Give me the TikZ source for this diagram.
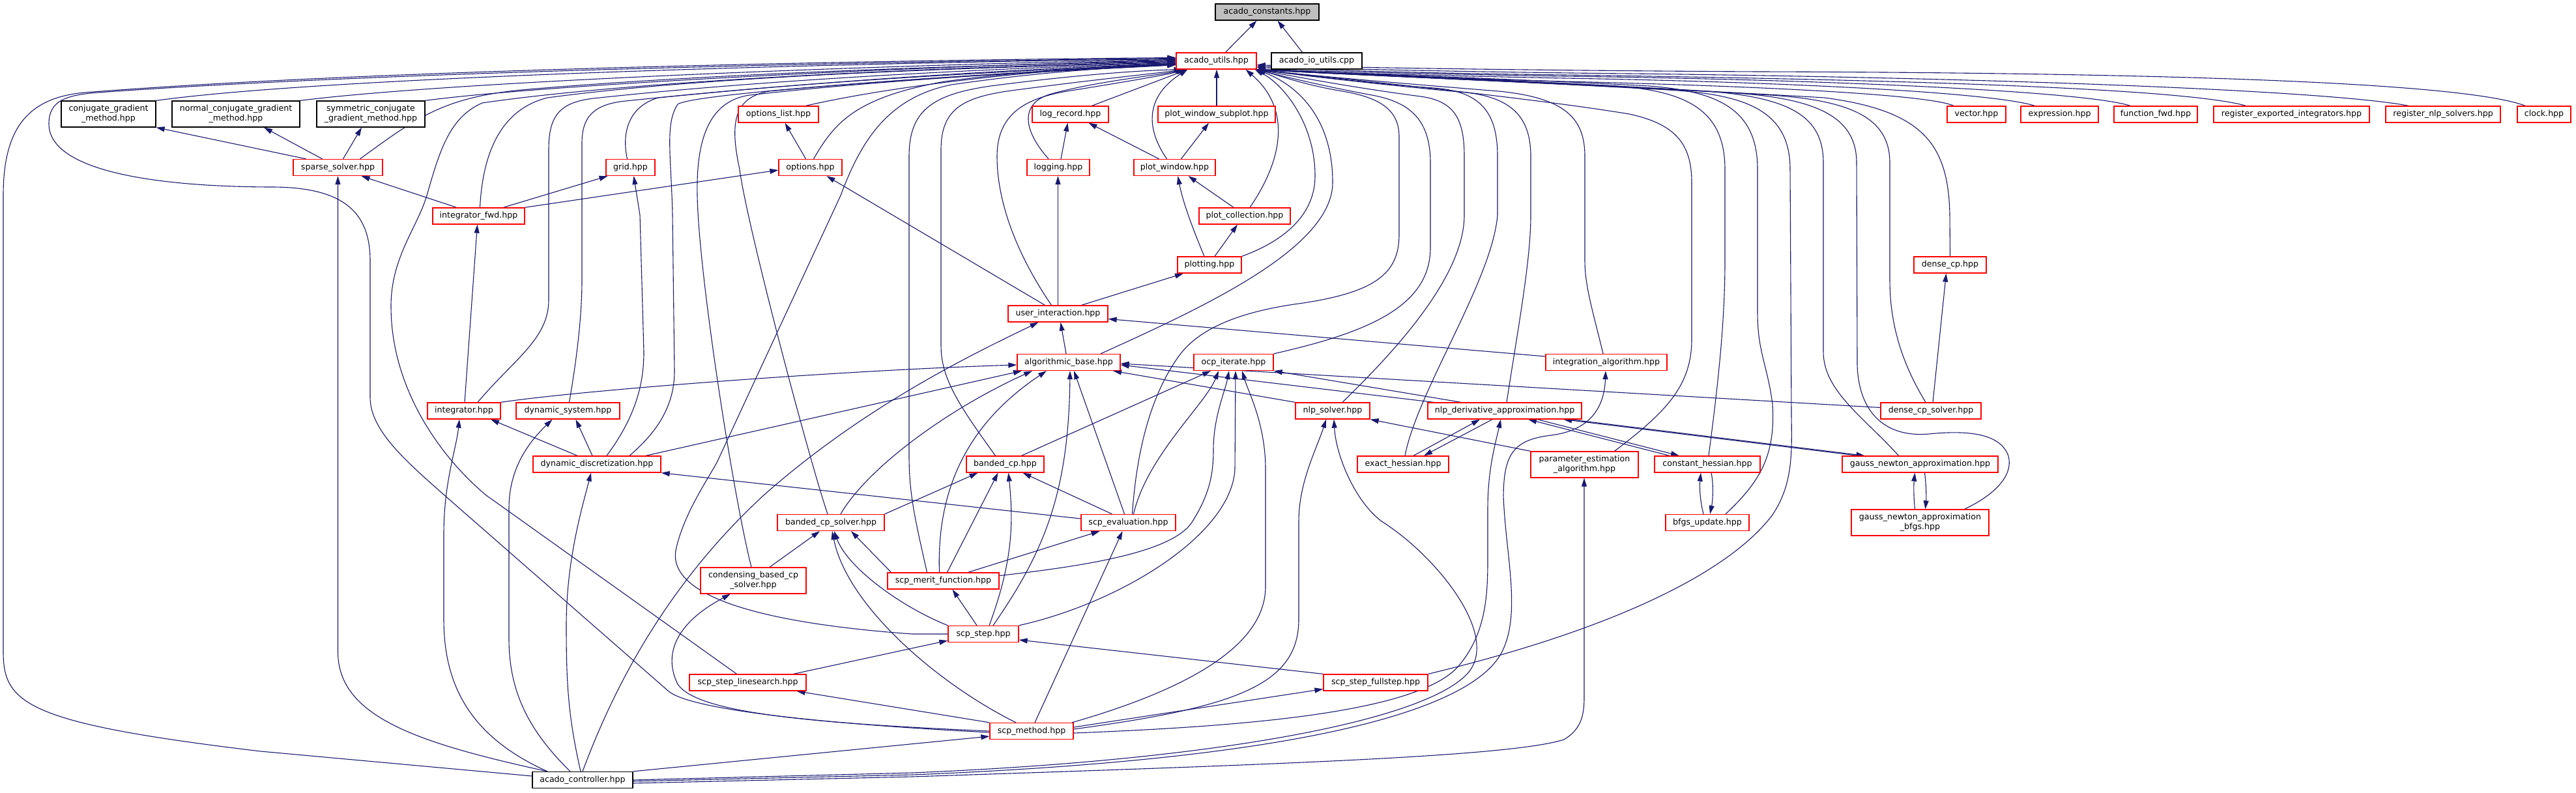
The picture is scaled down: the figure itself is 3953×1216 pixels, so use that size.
\documentclass[tikz,border=0pt]{standalone}
\usepackage{fontspec}
\setmainfont{DejaVu Sans}
\usetikzlibrary{arrows.meta}
\definecolor{edgec}{RGB}{25,25,112}
\definecolor{boxred}{RGB}{255,0,0}
\definecolor{constgrey}{RGB}{191,191,191}
\pgfdeclarelayer{bg}
\pgfsetlayers{bg,main}
\tikzset{
  basebox/.style={line width=1.3pt, fill=white, inner sep=0pt, minimum height=25pt, font=\fontsize{12.6}{15}\selectfont, align=center, text=black},
  rbox/.style={basebox, draw=boxred},
  kbox/.style={basebox, draw=black},
  gbox/.style={basebox, draw=black, fill=constgrey},
  tall/.style={minimum height=40pt},
  edg/.style={draw=edgec, line width=1.1pt, -{Triangle[length=13pt,width=8pt]}},
}
\begin{document}
\begin{tikzpicture}[x=1pt,y=-1pt]
\useasboundingbox (0,0) rectangle (3953,1216);
% ---------------- nodes ----------------
\node[gbox, minimum width=159pt] (acadoconst) at (1944.5,18.5) {acado\_constants.hpp};
\node[rbox, minimum width=123pt] (utils) at (1866.5,93.5) {acado\_utils.hpp};
\node[kbox, minimum width=139pt] (ioutils) at (2020.5,93.5) {acado\_io\_utils.cpp};
\node[kbox, tall, minimum width=145pt] (cg) at (166.5,175) {conjugate\_gradient\\\_method.hpp};
\node[kbox, tall, minimum width=196pt] (ncg) at (362,175) {normal\_conjugate\_gradient\\\_method.hpp};
\node[kbox, tall, minimum width=166pt] (scg) at (569,175) {symmetric\_conjugate\\\_gradient\_method.hpp};
\node[rbox, minimum width=123pt] (optlist) at (1194.5,175.5) {options\_list.hpp};
\node[rbox, minimum width=117pt] (logrec) at (1642.5,175.5) {log\_record.hpp};
\node[rbox, minimum width=180pt] (pwsub) at (1867,175.5) {plot\_window\_subplot.hpp};
\node[rbox, minimum width=90pt] (vector) at (3033,175.5) {vector.hpp};
\node[rbox, minimum width=119pt] (expr) at (3160.5,175.5) {expression.hpp};
\node[rbox, minimum width=128pt] (ffwd) at (3308,175.5) {function\_fwd.hpp};
\node[rbox, minimum width=239pt] (regint) at (3516.5,175.5) {register\_exported\_integrators.hpp};
\node[rbox, minimum width=176pt] (regnlp) at (3749,175.5) {register\_nlp\_solvers.hpp};
\node[rbox, minimum width=82pt] (clock) at (3904,175.5) {clock.hpp};
\node[rbox, minimum width=137pt] (sparse) at (518.5,257) {sparse\_solver.hpp};
\node[rbox, minimum width=75pt] (grid) at (967.5,257) {grid.hpp};
\node[rbox, minimum width=97pt] (options) at (1243.5,257) {options.hpp};
\node[rbox, minimum width=96pt] (logging) at (1624,257) {logging.hpp};
\node[rbox, minimum width=125pt] (pwin) at (1802.5,257) {plot\_window.hpp};
\node[rbox, minimum width=141pt] (intfwd) at (734.5,331.5) {integrator\_fwd.hpp};
\node[rbox, minimum width=140pt] (plotcoll) at (1910,331.5) {plot\_collection.hpp};
\node[rbox, minimum width=98pt] (plotting) at (1856,406.5) {plotting.hpp};
\node[rbox, minimum width=111pt] (densecp) at (2992.5,406.5) {dense\_cp.hpp};
\node[rbox, minimum width=153pt] (userint) at (1623.5,481.5) {user\_interaction.hpp};
\node[rbox, minimum width=158pt] (algbase) at (1640,556) {algorithmic\_base.hpp};
\node[rbox, minimum width=122pt] (ocpit) at (1893,556) {ocp\_iterate.hpp};
\node[rbox, minimum width=186pt] (intalg) at (2465,556) {integration\_algorithm.hpp};
\node[rbox, minimum width=112pt] (integrator) at (712,630.5) {integrator.hpp};
\node[rbox, minimum width=159pt] (dynsys) at (871.5,630.5) {dynamic\_system.hpp};
\node[rbox, minimum width=114pt] (nlpsolver) at (2045,630.5) {nlp\_solver.hpp};
\node[rbox, minimum width=236pt] (nlpderiv) at (2309,630.5) {nlp\_derivative\_approximation.hpp};
\node[rbox, minimum width=154pt] (densecpsolver) at (2963,630.5) {dense\_cp\_solver.hpp};
\node[rbox, minimum width=196pt] (dyndisc) at (916,712.5) {dynamic\_discretization.hpp};
\node[rbox, minimum width=119pt] (bandedcp) at (1542.5,712.5) {banded\_cp.hpp};
\node[rbox, minimum width=140pt] (exacth) at (2153,712.5) {exact\_hessian.hpp};
\node[rbox, tall, minimum width=165pt] (paramest) at (2431.5,713) {parameter\_estimation\\\_algorithm.hpp};
\node[rbox, minimum width=162pt] (consth) at (2620,712.5) {constant\_hessian.hpp};
\node[rbox, minimum width=239pt] (gn) at (2946.5,712.5) {gauss\_newton\_approximation.hpp};
\node[rbox, minimum width=164pt] (bandedcpsolver) at (1275,802) {banded\_cp\_solver.hpp};
\node[rbox, minimum width=145pt] (scpeval) at (1731.5,802) {scp\_evaluation.hpp};
\node[rbox, minimum width=128pt] (bfgs) at (2620,802) {bfgs\_update.hpp};
\node[rbox, tall, minimum width=211pt] (gnbfgs) at (2946.5,802) {gauss\_newton\_approximation\\\_bfgs.hpp};
\node[rbox, tall, minimum width=162pt] (condensing) at (1156,891) {condensing\_based\_cp\\\_solver.hpp};
\node[rbox, minimum width=171pt] (merit) at (1447.5,891.5) {scp\_merit\_function.hpp};
\node[rbox, minimum width=108pt] (scpstep) at (1509,973) {scp\_step.hpp};
\node[rbox, minimum width=179pt] (linesearch) at (1147.5,1047.5) {scp\_step\_linesearch.hpp};
\node[rbox, minimum width=160pt] (fullstep) at (2111,1047.5) {scp\_step\_fullstep.hpp};
\node[rbox, minimum width=128pt] (scpmethod) at (1583,1122) {scp\_method.hpp};
\node[kbox, minimum width=154pt] (controller) at (894,1197) {acado\_controller.hpp};
% ---------------- edges ----------------
\begin{pgfonlayer}{bg}
\fill[white] (0,0) rectangle (3953,1216);
% to acado_constants
\draw[edg] ([xshift=14]utils.north) -- ([xshift=-16]acadoconst.south);
\draw[edg] ([xshift=-22]ioutils.north) -- ([xshift=16]acadoconst.south);
% long left bundle into acado_utils
\draw[edg] ([yshift=6]controller.west) -- (400,1153) .. controls (40,1110) and (5,1080) .. (5,1000) -- (5,300) .. controls (5,200) and (40,150) .. (130,142) .. controls (600,105) and (1400,92) .. ([yshift=5]utils.west);
\draw[edg] ([yshift=-2]scpmethod.west) .. controls (1300,1113) and (1060,1092) .. (1025,1060) -- (682,760) .. controls (622,707) and (568,660) .. (568,610) -- (568,400) .. controls (568,320) and (520,288) .. (420,287) .. controls (250,287) and (75,265) .. (75,190) .. controls (75,155) and (100,146) .. (150,142) .. controls (620,108) and (1400,94) .. ([yshift=4]utils.west);
\draw[edg] (cg.north east) .. controls (500,118) and (1300,96) .. ([yshift=3]utils.west);
\draw[edg] (ncg.north east) .. controls (700,124) and (1400,98) .. ([yshift=2]utils.west);
\draw[edg] (scg.north east) .. controls (850,128) and (1450,100) .. ([yshift=1]utils.west);
\draw[edg] ([xshift=34]sparse.north) .. controls (640,180) and (680,150) .. (800,138) .. controls (1100,112) and (1500,100) .. ([yshift=0]utils.west);
\draw[edg] ([xshift=-17]linesearch.north) -- (746,760) .. controls (680,705) and (600,600) .. (600,470) .. controls (600,395) and (640,350) .. (655,300) .. controls (675,230) and (690,180) .. (740,158) .. controls (1000,120) and (1500,102) .. ([yshift=-1]utils.west);
\draw[edg] ([xshift=2]intfwd.north) .. controls (740,250) and (760,170) .. (840,150) .. controls (1100,115) and (1500,104) .. ([yshift=-2]utils.west);
\draw[edg] ([xshift=21]integrator.north) .. controls (790,550) and (842,520) .. (842,460) -- (842,230) .. controls (842,175) and (860,155) .. (920,150) .. controls (1200,120) and (1550,104) .. ([yshift=-3]utils.west);
\draw[edg] ([xshift=2]dynsys.north) .. controls (880,580) and (893,500) .. (893,430) -- (893,220) .. controls (893,180) and (910,160) .. (960,155) .. controls (1250,125) and (1550,106) .. ([yshift=-4]utils.west);
\draw[edg] ([xshift=-5]grid.north) .. controls (955,210) and (960,165) .. (1010,150) .. controls (1300,120) and (1600,107) .. ([yshift=-5]utils.west);
\draw[edg] ([xshift=50]dyndisc.north) .. controls (1000,670) and (1035,630) .. (1035,570) -- (1032,330) .. controls (1030,240) and (1020,190) .. (1040,160) .. controls (1070,140) and (1600,108) .. ([yshift=-5]utils.west);
\draw[edg] ([xshift=-3]condensing.north) .. controls (1125,760) and (1072,420) .. (1070,300) .. controls (1068,210) and (1090,155) .. (1150,146) .. controls (1400,118) and (1650,108) .. ([yshift=-6]utils.west);
\draw[edg] ([xshift=-5]bandedcpsolver.north) .. controls (1240,700) and (1145,340) .. (1135,260) .. controls (1120,190) and (1125,150) .. (1180,140) .. controls (1450,115) and (1650,108) .. ([yshift=-6]utils.west);
\draw[edg] (scpstep.west) -- (1400,973) .. controls (1150,955) and (1020,910) .. (1038,840) .. controls (1050,790) and (1080,745) .. (1100,710) -- (1290,300) .. controls (1320,220) and (1360,150) .. (1460,130) .. controls (1600,110) and (1700,104) .. ([yshift=-6]utils.west);
\draw[edg] ([xshift=42]optlist.north) .. controls (1400,125) and (1650,103) .. ([yshift=-4]utils.west);
\draw[edg] ([xshift=5]options.north) .. controls (1280,190) and (1310,150) .. (1450,125) .. controls (1600,105) and (1750,100) .. ([yshift=-5]utils.west);
% bottom-left into acado_utils
\draw[edg] ([xshift=-25]merit.north) .. controls (1405,800) and (1395,760) .. (1395,700) -- (1395,240) .. controls (1395,170) and (1430,145) .. (1520,132) .. controls (1650,115) and (1750,108) .. ([xshift=10]utils.south west);
\draw[edg] ([xshift=-15]bandedcp.north) .. controls (1470,620) and (1444,580) .. (1444,530) -- (1444,230) .. controls (1444,165) and (1480,148) .. (1560,138) .. controls (1680,122) and (1780,112) .. ([xshift=12]utils.south west);
\draw[edg] ([xshift=-10]userint.north) .. controls (1560,390) and (1530,310) .. (1530,240) .. controls (1530,170) and (1580,148) .. (1650,138) .. controls (1730,125) and (1790,115) .. ([xshift=14]utils.south west);
\draw[edg] ([xshift=-15]logging.north) .. controls (1570,200) and (1565,160) .. (1610,145) .. controls (1680,125) and (1780,115) .. ([xshift=16]utils.south west);
\draw[edg] ([xshift=33]logrec.north) -- ([xshift=18]utils.south west);
\draw[edg] ([xshift=-12]pwin.north) .. controls (1760,200) and (1755,150) .. ([xshift=18]utils.south west);
\draw[edg] (pwsub.north) -- (pwsub.north |- utils.south);
\draw[edg] ([xshift=8]plotcoll.north) .. controls (1965,250) and (1985,170) .. ([xshift=45]utils.south);
\draw[edg] (plotting.north east) .. controls (1970,370) and (2018,330) .. (2018,270) .. controls (2018,190) and (1970,130) .. ([xshift=-3]utils.south east);
\draw[edg] ([xshift=49]algbase.north) .. controls (1850,470) and (2045,380) .. (2045,280) .. controls (2045,180) and (1990,130) .. ([xshift=-1]utils.south east);
% right fan into acado_utils
\draw[edg] (ocpit.north east) .. controls (2100,510) and (2195,470) .. (2195,380) -- (2195,250) .. controls (2195,180) and (2160,155) .. (2100,145) .. controls (2030,132) and (1960,115) .. (utils.south east);
\draw[edg] ([xshift=6]scpeval.north) .. controls (1745,680) and (1770,600) .. (1810,545) .. controls (1840,505) and (1900,478) .. (2000,465) .. controls (2110,448) and (2147,420) .. (2147,360) -- (2147,210) .. controls (2147,170) and (2120,150) .. (2060,140) .. controls (2000,130) and (1960,115) .. (utils.south east);
\draw[edg] ([xshift=-5]intalg.north) .. controls (2445,480) and (2432,440) .. (2432,400) -- (2432,240) .. controls (2432,180) and (2400,150) .. (2300,140) .. controls (2150,128) and (2000,115) .. (utils.south east);
\draw[edg] ([xshift=15]nlpsolver.north) .. controls (2150,530) and (2247,420) .. (2247,330) -- (2247,240) .. controls (2247,180) and (2230,155) .. (2180,148) .. controls (2080,135) and (1990,118) .. (utils.south east);
\draw[edg] ([xshift=3]nlpderiv.north) .. controls (2330,500) and (2349,400) .. (2349,330) -- (2349,240) .. controls (2349,180) and (2320,150) .. (2250,142) .. controls (2120,130) and (2000,116) .. (utils.south east);
\draw[edg] ([xshift=3]exacth.north) .. controls (2175,600) and (2290,430) .. (2298,330) -- (2298,240) .. controls (2298,170) and (2270,140) .. (2200,135) .. controls (2100,128) and (2000,115) .. (utils.south east);
\draw[edg] ([xshift=46]paramest.north) .. controls (2560,630) and (2596,590) .. (2596,520) -- (2596,280) .. controls (2596,220) and (2570,190) .. (2500,175) .. controls (2350,150) and (2050,120) .. (utils.south east);
\draw[edg] ([xshift=2]consth.north) .. controls (2635,600) and (2647,500) .. (2647,400) -- (2647,260) .. controls (2647,170) and (2590,140) .. (2480,132) .. controls (2300,122) and (2050,112) .. (utils.south east);
\draw[edg] ([xshift=28]bfgs.north) .. controls (2700,740) and (2725,700) .. (2720,620) .. controls (2712,560) and (2697,540) .. (2697,480) -- (2697,260) .. controls (2697,170) and (2640,140) .. (2530,132) .. controls (2350,122) and (2050,112) .. (utils.south east);
\draw[edg] (fullstep.north east) .. controls (2500,960) and (2660,870) .. (2720,790) .. controls (2750,745) and (2750,700) .. (2749,640) -- (2747,260) .. controls (2747,170) and (2680,145) .. (2560,138) .. controls (2350,126) and (2050,113) .. (utils.south east);
\draw[edg] ([xshift=-33]gn.north) .. controls (2860,640) and (2798,600) .. (2798,540) -- (2798,250) .. controls (2798,180) and (2750,150) .. (2620,140) .. controls (2400,126) and (2050,113) .. (utils.south east);
\draw[edg] ([xshift=68]gnbfgs.north) .. controls (3060,760) and (3090,730) .. (3082,700) .. controls (3070,665) and (3020,660) .. (2960,666) .. controls (2890,672) and (2852,630) .. (2850,560) -- (2849,250) .. controls (2849,180) and (2790,150) .. (2650,142) .. controls (2420,128) and (2050,114) .. (utils.south east);
\draw[edg] ([xshift=-8]densecpsolver.north) .. controls (2920,560) and (2900,500) .. (2900,430) -- (2900,250) .. controls (2900,180) and (2840,152) .. (2700,145) .. controls (2450,130) and (2050,114) .. (utils.south east);
\draw[edg] (densecp.north) -- (2992,330) .. controls (2990,220) and (2950,170) .. (2800,150) .. controls (2500,132) and (2050,114) .. (utils.south east);
\draw[edg] ([xshift=-35]vector.north) .. controls (2960,145) and (2700,132) .. (2400,125) .. controls (2150,118) and (2000,110) .. (utils.south east);
\draw[edg] ([xshift=-38]expr.north) .. controls (3050,140) and (2700,125) .. (2400,120) .. controls (2150,115) and (2000,110) .. (utils.south east);
\draw[edg] ([xshift=-39]ffwd.north) .. controls (3200,140) and (2800,122) .. (2400,117) .. controls (2150,113) and (2000,108) .. (utils.south east);
\draw[edg] ([xshift=-70]regint.north) .. controls (3350,135) and (2900,122) .. (2400,115) .. controls (2150,112) and (2000,106) .. ([yshift=3]utils.south east);
\draw[edg] ([xshift=-53]regnlp.north) .. controls (3580,140) and (3100,120) .. (2500,113) .. controls (2200,110) and (2000,104) .. ([yshift=5]utils.south east);
\draw[edg] ([xshift=-29]clock.north) .. controls (3790,130) and (3400,112) .. (2700,110) .. controls (2300,108) and (2000,102) .. ([yshift=7]utils.south east);
% upper structure
\draw[edg] ([xshift=-49]sparse.north) -- (cg.south east);
\draw[edg] ([xshift=-24]sparse.north) -- ([xshift=43]ncg.south);
\draw[edg] ([xshift=8]sparse.north) -- ([xshift=-14]scg.south);
\draw[edg] ([xshift=-34]intfwd.north) -- ([xshift=36]sparse.south);
\draw[edg] ([xshift=-54]controller.north) .. controls (640,1140) and (518.5,1100) .. (518.5,1000) -- (sparse.south);
\draw[edg] ([xshift=38]intfwd.north) -- ([xshift=-35]grid.south);
\draw[edg] ([xshift=15]dyndisc.north) .. controls (975,640) and (988,590) .. (988,540) -- (982,330) -- ([xshift=5]grid.south);
\draw[edg] (intfwd.north east) -- ([yshift=-4]options.west);
\draw[edg] ([xshift=-7]options.north) -- ([xshift=10]optlist.south);
\draw[edg] ([xshift=-20]userint.north) -- ([xshift=25]options.south);
\draw[edg] ([xshift=4]logging.north) -- ([xshift=-4]logrec.south);
\draw[edg] ([xshift=-24]pwin.north) -- ([xshift=28]logrec.south);
\draw[edg] ([xshift=10]pwin.north) -- ([xshift=-12]pwsub.south);
\draw[edg] (userint.north) -- (userint.north |- logging.south);
\draw[edg] ([xshift=-17]plotcoll.north) -- ([xshift=21]pwin.south);
\draw[edg] ([xshift=-8]plotting.north) .. controls (1830,350) and (1815,310) .. ([xshift=5]pwin.south);
\draw[edg] ([xshift=8]plotting.north) -- ([xshift=-11]plotcoll.south);
\draw[edg] ([xshift=36]userint.north) -- ([xshift=-40]plotting.south);
\draw[edg] ([xshift=-4]algbase.north) -- ([xshift=4]userint.south);
\draw[edg] ([yshift=9]intalg.west) -- ([yshift=-8]userint.east);
\draw[edg] (controller.north) .. controls (940,1060) and (1020,900) .. (1172,760) .. controls (1330,620) and (1500,540) .. ([xshift=-30]userint.south);
% integrator / dynamic system / discretization
\draw[edg] ([xshift=1]integrator.north) -- ([xshift=-2]intfwd.south);
\draw[edg] (integrator.north east) .. controls (900,598) and (1300,568) .. ([yshift=-4]algbase.west);
\draw[edg] ([xshift=-30]dyndisc.north) -- ([xshift=41]integrator.south);
\draw[edg] ([xshift=-54]controller.north) .. controls (720,1130) and (681,1050) .. (681,950) -- (681,820) .. controls (681,740) and (700,690) .. ([xshift=-7]integrator.south);
\draw[edg] ([xshift=-7]dyndisc.north) -- ([xshift=12]dynsys.south);
\draw[edg] ([xshift=-19]controller.north) .. controls (810,1120) and (781,1060) .. (781,980) -- (781,780) .. controls (781,720) and (810,680) .. ([xshift=-24]dynsys.south);
\draw[edg] ([xshift=-3]controller.north) .. controls (872,1100) and (869,1050) .. (869,960) .. controls (869,860) and (893,780) .. ([xshift=-9]dyndisc.south);
\draw[edg] ([xshift=75]dyndisc.north) -- ([xshift=-72]algbase.south);
% into algorithmic_base
\draw[edg] ([xshift=15]bandedcpsolver.north) .. controls (1330,720) and (1450,630) .. ([xshift=-56]algbase.south);
\draw[edg] ([xshift=-6]merit.north) .. controls (1438,770) and (1470,660) .. ([xshift=-34]algbase.south);
\draw[edg] ([xshift=15]scpstep.north) .. controls (1600,850) and (1640,760) .. ([xshift=2]algbase.south);
\draw[edg] ([xshift=-6]scpeval.north) -- ([xshift=8]algbase.south);
\draw[edg] (nlpsolver.north west) -- ([xshift=68]algbase.south);
\draw[edg] ([xshift=-109]nlpderiv.north) -- ([yshift=-4]algbase.east);
\draw[edg] ([yshift=5]densecpsolver.west) -- ([yshift=-2]algbase.east);
% into ocp_iterate
\draw[edg] ([xshift=-67]nlpderiv.north) -- (ocpit.south east);
\draw[edg] ([xshift=25]bandedcp.north) -- ([xshift=-35]ocpit.south);
\draw[edg] ([xshift=8]scpeval.north) .. controls (1760,700) and (1850,620) .. ([xshift=-23]ocpit.south);
\draw[edg] ([yshift=8]merit.east) .. controls (1650,870) and (1800,850) .. (1830,800) .. controls (1855,760) and (1862,730) .. (1862,690) .. controls (1862,640) and (1880,600) .. ([xshift=-7]ocpit.south);
\draw[edg] (scpstep.north east) .. controls (1720,925) and (1890,820) .. (1895,720) -- ([xshift=3]ocpit.south);
\draw[edg] ([xshift=62]scpmethod.north) .. controls (1850,1050) and (1942,980) .. (1942,900) -- (1942,720) .. controls (1942,650) and (1915,600) .. ([xshift=13]ocpit.south);
% banded cp solver cluster
\draw[edg] (bandedcpsolver.north east) -- ([xshift=-42]bandedcp.south);
\draw[edg] ([xshift=25]condensing.north) -- ([xshift=-17]bandedcpsolver.south);
\draw[edg] ([xshift=-80]merit.north) -- ([xshift=31]bandedcpsolver.south);
\draw[edg] (scpstep.north west) .. controls (1380,930) and (1300,870) .. ([xshift=5]bandedcpsolver.south);
\draw[edg] ([xshift=-24]scpmethod.north) .. controls (1440,1050) and (1300,930) .. ([xshift=2]bandedcpsolver.south);
\draw[edg] ([xshift=9]scpstep.north) .. controls (1555,860) and (1555,800) .. ([xshift=5]bandedcp.south);
\draw[edg] ([xshift=6]merit.north) -- ([xshift=-11]bandedcp.south);
\draw[edg] ([xshift=-25]scpeval.north) -- ([xshift=27]bandedcp.south);
\draw[edg] ([xshift=5]scpmethod.north) -- ([xshift=-9]scpeval.south);
\draw[edg] ([xshift=38]merit.north) -- ([xshift=-44]scpeval.south);
\draw[edg] ([yshift=6]scpeval.west) -- (dyndisc.south east);
\draw[edg] ([xshift=-10]scpstep.north) -- ([xshift=14]merit.south);
\draw[edg] ([xshift=70]linesearch.north) -- ([yshift=-10]scpstep.west);
\draw[edg] (fullstep.north west) -- ([yshift=-9]scpstep.east);
\draw[edg] (scpmethod.north west) -- ([xshift=75]linesearch.south);
\draw[edg] ([yshift=6]scpmethod.east) -- ([yshift=-10]fullstep.west);
\draw[edg] (scpmethod.west) .. controls (1250,1110) and (1070,1095) .. (1040,1050) .. controls (1020,1010) and (1030,960) .. ([xshift=-35]condensing.south);
% scp_method / controller to the right
\draw[edg] ([yshift=3]scpmethod.east) .. controls (1900,1085) and (1993,1050) .. (1993,950) -- (1993,800) .. controls (1993,740) and (2020,690) .. ([xshift=-10]nlpsolver.south);
\draw[edg] (controller.east) -- (1400,1186) .. controls (1900,1165) and (2200,1100) .. (2255,1030) .. controls (2300,970) and (2200,850) .. (2120,800) .. controls (2080,770) and (2050,700) .. ([xshift=2]nlpsolver.south);
\draw[edg] ([yshift=-3]scpmethod.east) .. controls (1900,1115) and (2180,1095) .. (2240,1020) .. controls (2285,965) and (2283,900) .. (2283,840) -- (2283,780) .. controls (2283,720) and (2295,680) .. ([xshift=-6]nlpderiv.south);
\draw[edg] ([yshift=-2]controller.east) -- (1400,1189) .. controls (2000,1165) and (2260,1090) .. (2305,1000) .. controls (2335,940) and (2310,850) .. (2307,760) .. controls (2308,700) and (2320,675) .. (2380,668) .. controls (2445,660) and (2462,620) .. ([xshift=-1]intalg.south);
\draw[edg] ([yshift=-5]controller.east) -- (1400,1192) .. controls (2000,1172) and (2320,1160) .. (2400,1135) .. controls (2425,1120) and (2431,1100) .. (2431,1070) -- ([xshift=-0.5]paramest.south);
\draw[edg] (controller.north east) -- ([yshift=-8]scpmethod.west);
% nlp cluster
\draw[edg] (paramest.north west) -- (nlpsolver.south east);
\draw[edg] ([xshift=16]exacth.north) -- ([xshift=-38]nlpderiv.south);
\draw[edg] ([xshift=-19]nlpderiv.south) -- ([xshift=32]exacth.north);
\draw[edg] ([xshift=-58]consth.north) -- ([xshift=36]nlpderiv.south);
\draw[edg] ([xshift=50]nlpderiv.south) -- ([xshift=-43]consth.north);
\draw[edg] ([xshift=-95]gn.north) -- ([xshift=90]nlpderiv.south);
\draw[edg] ([xshift=100]nlpderiv.south) -- ([xshift=-85]gn.north);
\draw[edg] ([xshift=-6]bfgs.north) .. controls (2608,765) and (2608,745) .. ([xshift=-10]consth.south);
\draw[edg] ([xshift=6]consth.south) .. controls (2630,745) and (2628,770) .. ([xshift=4]bfgs.north);
\draw[edg] ([xshift=-8]gnbfgs.north) .. controls (2936,760) and (2937,740) .. ([xshift=-8]gn.south);
\draw[edg] ([xshift=7]gn.south) .. controls (2956,745) and (2956,765) .. ([xshift=8]gnbfgs.north);
\draw[edg] ([xshift=3]densecpsolver.north) -- ([xshift=-6]densecp.south);
\end{pgfonlayer}
\end{tikzpicture}
\end{document}
